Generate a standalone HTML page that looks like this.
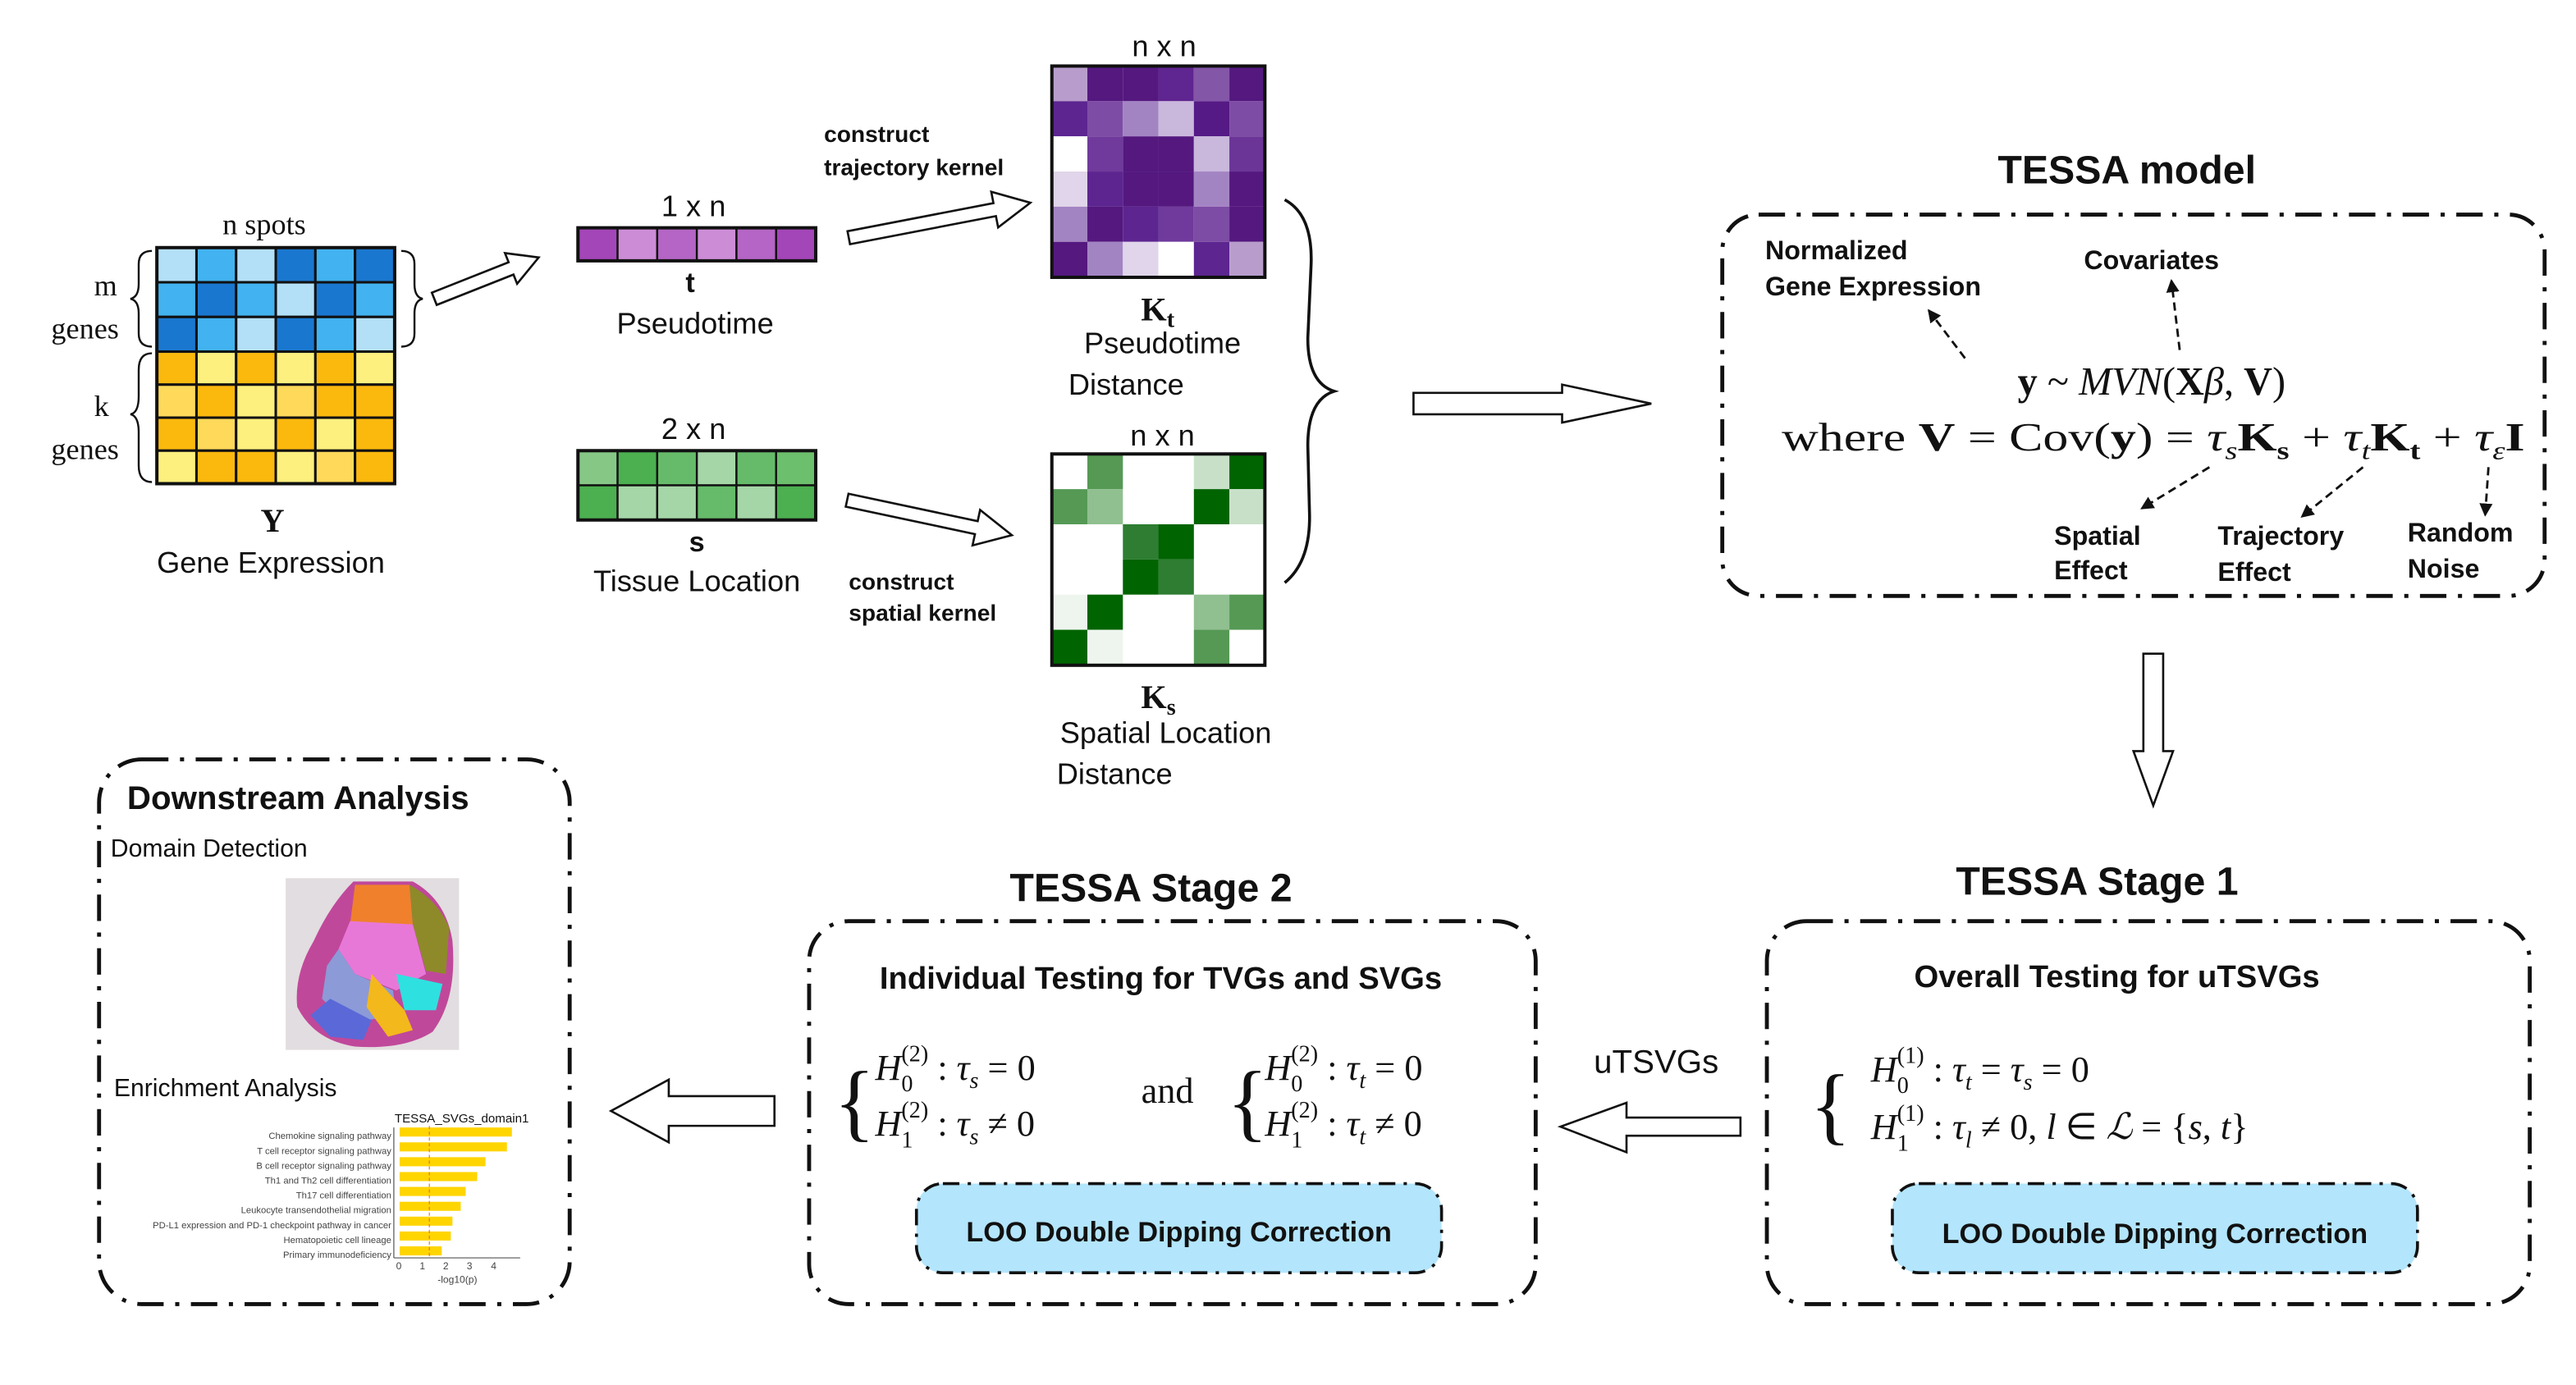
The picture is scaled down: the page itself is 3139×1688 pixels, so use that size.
<!DOCTYPE html>
<html><head><meta charset="utf-8"><style>
html,body{margin:0;padding:0;background:#fff;}
svg{display:block;}
.s{font-family:"Liberation Sans",sans-serif;}
.m{font-family:"Liberation Serif",serif;}
</style></head><body>
<svg width="3139" height="1688" viewBox="0 0 1560 839" preserveAspectRatio="none" xmlns="http://www.w3.org/2000/svg">
<rect x="0" y="0" width="1560" height="839" fill="#fff"/>
<!-- Gene matrix -->
<g stroke="#111" stroke-width="1.5">
<g transform="translate(95,150)">
<rect x="0" y="0" width="24" height="21" fill="#b3e0f7"/><rect x="24" y="0" width="24" height="21" fill="#42b2f0"/><rect x="48" y="0" width="24" height="21" fill="#b3e0f7"/><rect x="72" y="0" width="24" height="21" fill="#1a77cf"/><rect x="96" y="0" width="24" height="21" fill="#42b2f0"/><rect x="120" y="0" width="24" height="21" fill="#1a77cf"/>
<rect x="0" y="21" width="24" height="21" fill="#42b2f0"/><rect x="24" y="21" width="24" height="21" fill="#1a77cf"/><rect x="48" y="21" width="24" height="21" fill="#42b2f0"/><rect x="72" y="21" width="24" height="21" fill="#b3e0f7"/><rect x="96" y="21" width="24" height="21" fill="#1a77cf"/><rect x="120" y="21" width="24" height="21" fill="#42b2f0"/>
<rect x="0" y="42" width="24" height="21" fill="#1a77cf"/><rect x="24" y="42" width="24" height="21" fill="#42b2f0"/><rect x="48" y="42" width="24" height="21" fill="#b3e0f7"/><rect x="72" y="42" width="24" height="21" fill="#1a77cf"/><rect x="96" y="42" width="24" height="21" fill="#42b2f0"/><rect x="120" y="42" width="24" height="21" fill="#b3e0f7"/>
<rect x="0" y="63" width="24" height="20" fill="#fbb90e"/><rect x="24" y="63" width="24" height="20" fill="#fef07e"/><rect x="48" y="63" width="24" height="20" fill="#fbb90e"/><rect x="72" y="63" width="24" height="20" fill="#fef07e"/><rect x="96" y="63" width="24" height="20" fill="#fbb90e"/><rect x="120" y="63" width="24" height="20" fill="#fef07e"/>
<rect x="0" y="83" width="24" height="20" fill="#fed95a"/><rect x="24" y="83" width="24" height="20" fill="#fbb90e"/><rect x="48" y="83" width="24" height="20" fill="#fef07e"/><rect x="72" y="83" width="24" height="20" fill="#fed95a"/><rect x="96" y="83" width="24" height="20" fill="#fbb90e"/><rect x="120" y="83" width="24" height="20" fill="#fbb90e"/>
<rect x="0" y="103" width="24" height="20" fill="#fbb90e"/><rect x="24" y="103" width="24" height="20" fill="#fed95a"/><rect x="48" y="103" width="24" height="20" fill="#fef07e"/><rect x="72" y="103" width="24" height="20" fill="#fbb90e"/><rect x="96" y="103" width="24" height="20" fill="#fef07e"/><rect x="120" y="103" width="24" height="20" fill="#fbb90e"/>
<rect x="0" y="123" width="24" height="20" fill="#fef07e"/><rect x="24" y="123" width="24" height="20" fill="#fbb90e"/><rect x="48" y="123" width="24" height="20" fill="#fbb90e"/><rect x="72" y="123" width="24" height="20" fill="#fef07e"/><rect x="96" y="123" width="24" height="20" fill="#fed95a"/><rect x="120" y="123" width="24" height="20" fill="#fbb90e"/>
</g></g>
<rect x="95" y="150" width="144" height="143" fill="none" stroke="#111" stroke-width="2"/>
<g fill="none" stroke="#111" stroke-width="1.2">
<path d="M92,152 Q84,152 84,160 L84,172 Q84,180 79,181 Q84,182 84,190 L84,202 Q84,210 92,210"/>
<path d="M92,214 Q84,214 84,224 L84,240 Q84,250 79,251 Q84,252 84,262 L84,282 Q84,292 92,292"/>
<path d="M243,152 Q251,152 251,160 L251,172 Q251,180 256,181 Q251,182 251,190 L251,202 Q251,210 243,210"/>
</g>
<g class="m" font-size="18" fill="#111">
<text x="160" y="142" text-anchor="middle">n  spots</text>
<text x="71" y="179" text-anchor="end">m</text>
<text x="72" y="205" text-anchor="end">genes</text>
<text x="66" y="252" text-anchor="end">k</text>
<text x="72" y="278" text-anchor="end">genes</text>
<text x="165" y="322" text-anchor="middle" font-weight="bold" font-size="20">Y</text>
</g>
<text class="s" x="164" y="347" font-size="18" text-anchor="middle" fill="#111">Gene Expression</text>
<!-- hollow arrows -->
<g fill="#fff" stroke="#111" stroke-width="1.3">
<polygon transform="translate(263,181) rotate(-21.6)" points="0,-4 50,-4 50,-10 68,0 50,10 50,4 0,4"/>
<polygon transform="translate(514,144) rotate(-10.9)" points="0,-4 90,-4 90,-11 112,0 90,11 90,4 0,4"/>
<polygon transform="translate(513,303) rotate(12)" points="0,-4 80,-4 80,-11 102,0 80,11 80,4 0,4"/>
<polygon points="856,238 946,238 946,233 1000,244.5 946,256 946,251 856,251"/>
<polygon points="1298,396 1310,396 1310,455 1316,455 1304,488 1292,455 1298,455"/>
<polygon points="1054,677 985,677 985,668 945,682.5 985,698 985,688 1054,688"/>
<polygon points="469,664 405,664 405,654 370,673 405,692 405,682 469,682"/>
</g>
<!-- t bar -->
<g stroke="#111" stroke-width="1.2">
<rect x="350" y="138" width="24" height="20" fill="#a346b8"/><rect x="374" y="138" width="24" height="20" fill="#cc8dd6"/><rect x="398" y="138" width="24" height="20" fill="#b465c5"/><rect x="422" y="138" width="24" height="20" fill="#cc8dd6"/><rect x="446" y="138" width="24" height="20" fill="#b465c5"/><rect x="470" y="138" width="24" height="20" fill="#a346b8"/>
<rect x="350" y="273" width="24" height="21" fill="#86c786"/><rect x="374" y="273" width="24" height="21" fill="#4caf50"/><rect x="398" y="273" width="24" height="21" fill="#66bb6a"/><rect x="422" y="273" width="24" height="21" fill="#a5d6a7"/><rect x="446" y="273" width="24" height="21" fill="#66bb6a"/><rect x="470" y="273" width="24" height="21" fill="#6cbf6c"/>
<rect x="350" y="294" width="24" height="21" fill="#4caf50"/><rect x="374" y="294" width="24" height="21" fill="#a5d6a7"/><rect x="398" y="294" width="24" height="21" fill="#a5d6a7"/><rect x="422" y="294" width="24" height="21" fill="#66bb6a"/><rect x="446" y="294" width="24" height="21" fill="#a5d6a7"/><rect x="470" y="294" width="24" height="21" fill="#4caf50"/>
</g>
<rect x="350" y="138" width="144" height="20" fill="none" stroke="#111" stroke-width="2"/>
<rect x="350" y="273" width="144" height="42" fill="none" stroke="#111" stroke-width="2"/>
<g class="s" font-size="18" fill="#111" text-anchor="middle">
<text x="420" y="131">1 x n</text>
<text x="418" y="177" font-weight="bold" font-size="17">t</text>
<text x="421" y="202">Pseudotime</text>
<text x="420" y="266">2 x n</text>
<text x="422" y="334" font-weight="bold" font-size="17">s</text>
<text x="422" y="358">Tissue Location</text>
<text x="705" y="34">n x n</text>
<text x="704" y="214">Pseudotime</text>
<text x="682" y="239">Distance</text>
<text x="704" y="270">n x n</text>
<text x="706" y="450">Spatial Location</text>
<text x="675" y="475">Distance</text>
</g>
<g class="s" font-size="14" font-weight="bold" fill="#111">
<text x="499" y="86">construct</text><text x="499" y="106">trajectory kernel</text>
<text x="514" y="357">construct</text><text x="514" y="376">spatial kernel</text>
</g>
<g class="m" font-weight="bold" fill="#111" font-size="20">
<text x="691" y="194">K<tspan font-size="14" dy="4">t</tspan></text>
<text x="691" y="429">K<tspan font-size="14" dy="4">s</tspan></text>
</g>
<!-- Kt -->
<g transform="translate(637,40)">
<rect x="0" y="0" width="21.5" height="21.3" fill="#b89dcc"/><rect x="21.5" y="0" width="21.5" height="21.3" fill="#54187f"/><rect x="43" y="0" width="21.5" height="21.3" fill="#54187f"/><rect x="64.5" y="0" width="21.5" height="21.3" fill="#5f2590"/><rect x="86" y="0" width="21.5" height="21.3" fill="#8456a8"/><rect x="107.5" y="0" width="21.5" height="21.3" fill="#54187f"/>
<rect x="0" y="21.3" width="21.5" height="21.3" fill="#5c2590"/><rect x="21.5" y="21.3" width="21.5" height="21.3" fill="#7d4ca5"/><rect x="43" y="21.3" width="21.5" height="21.3" fill="#a384c3"/><rect x="64.5" y="21.3" width="21.5" height="21.3" fill="#c9b7dc"/><rect x="86" y="21.3" width="21.5" height="21.3" fill="#551a85"/><rect x="107.5" y="21.3" width="21.5" height="21.3" fill="#7d4ca5"/>
<rect x="0" y="42.6" width="21.5" height="21.3" fill="#ffffff"/><rect x="21.5" y="42.6" width="21.5" height="21.3" fill="#6f3a9c"/><rect x="43" y="42.6" width="21.5" height="21.3" fill="#54187f"/><rect x="64.5" y="42.6" width="21.5" height="21.3" fill="#54187f"/><rect x="86" y="42.6" width="21.5" height="21.3" fill="#c9b7dc"/><rect x="107.5" y="42.6" width="21.5" height="21.3" fill="#6b3497"/>
<rect x="0" y="63.9" width="21.5" height="21.3" fill="#e0d5ea"/><rect x="21.5" y="63.9" width="21.5" height="21.3" fill="#5c2590"/><rect x="43" y="63.9" width="21.5" height="21.3" fill="#54187f"/><rect x="64.5" y="63.9" width="21.5" height="21.3" fill="#54187f"/><rect x="86" y="63.9" width="21.5" height="21.3" fill="#a384c3"/><rect x="107.5" y="63.9" width="21.5" height="21.3" fill="#54187f"/>
<rect x="0" y="85.2" width="21.5" height="21.3" fill="#a384c3"/><rect x="21.5" y="85.2" width="21.5" height="21.3" fill="#54187f"/><rect x="43" y="85.2" width="21.5" height="21.3" fill="#5c2590"/><rect x="64.5" y="85.2" width="21.5" height="21.3" fill="#6f3a9c"/><rect x="86" y="85.2" width="21.5" height="21.3" fill="#7d4ca5"/><rect x="107.5" y="85.2" width="21.5" height="21.3" fill="#54187f"/>
<rect x="0" y="106.5" width="21.5" height="21.5" fill="#54187f"/><rect x="21.5" y="106.5" width="21.5" height="21.5" fill="#a384c3"/><rect x="43" y="106.5" width="21.5" height="21.5" fill="#e0d5ea"/><rect x="64.5" y="106.5" width="21.5" height="21.5" fill="#ffffff"/><rect x="86" y="106.5" width="21.5" height="21.5" fill="#5c2590"/><rect x="107.5" y="106.5" width="21.5" height="21.5" fill="#b89dcc"/>
<rect x="0" y="0" width="129" height="128" fill="none" stroke="#111" stroke-width="2"/>
</g>
<!-- Ks -->
<g transform="translate(637,275)">
<rect x="21.5" y="0" width="21.5" height="21.3" fill="#559955"/><rect x="86" y="0" width="21.5" height="21.3" fill="#c8e0c8"/><rect x="107.5" y="0" width="21.5" height="21.3" fill="#006400"/>
<rect x="0" y="21.3" width="21.5" height="21.3" fill="#559955"/><rect x="21.5" y="21.3" width="21.5" height="21.3" fill="#90bf90"/><rect x="86" y="21.3" width="21.5" height="21.3" fill="#006400"/><rect x="107.5" y="21.3" width="21.5" height="21.3" fill="#c8e0c8"/>
<rect x="43" y="42.6" width="21.5" height="21.3" fill="#2e7d32"/><rect x="64.5" y="42.6" width="21.5" height="21.3" fill="#006400"/>
<rect x="43" y="63.9" width="21.5" height="21.3" fill="#006400"/><rect x="64.5" y="63.9" width="21.5" height="21.3" fill="#2e7d32"/>
<rect x="0" y="85.2" width="21.5" height="21.3" fill="#eef5ee"/><rect x="21.5" y="85.2" width="21.5" height="21.3" fill="#006400"/><rect x="86" y="85.2" width="21.5" height="21.3" fill="#90bf90"/><rect x="107.5" y="85.2" width="21.5" height="21.3" fill="#559955"/>
<rect x="0" y="106.5" width="21.5" height="21.5" fill="#006400"/><rect x="21.5" y="106.5" width="21.5" height="21.5" fill="#eef5ee"/><rect x="86" y="106.5" width="21.5" height="21.5" fill="#559955"/>
<rect x="0" y="0" width="129" height="128" fill="none" stroke="#111" stroke-width="2"/>
</g>
<!-- big brace -->
<path d="M778,121 Q795,130 794,160 L792,205 Q792,232 808,237 Q792,242 792,270 L793,310 Q794,340 778,353" fill="none" stroke="#111" stroke-width="1.8"/>
<!-- dash-dot boxes -->
<g fill="none" stroke="#111" stroke-width="2.4" stroke-dasharray="16 7 2.5 7">
<rect x="1043" y="130" width="498" height="231" rx="22"/>
<rect x="1070" y="558" width="462" height="232" rx="24"/>
<rect x="490" y="558" width="440" height="232" rx="24"/>
<rect x="60" y="460" width="285" height="330" rx="26"/>
</g>
<g fill="#b3e5fc" stroke="#111" stroke-width="1.8" stroke-dasharray="10 5 2 5">
<rect x="1146" y="717" width="318" height="54" rx="16"/>
<rect x="555" y="717" width="318" height="54" rx="16"/>
</g>
<!-- TESSA model text -->
<g class="s" font-weight="bold" fill="#111">
<text x="1288" y="111" font-size="24" text-anchor="middle">TESSA model</text>
<text x="1069" y="157" font-size="16">Normalized</text>
<text x="1069" y="179" font-size="16">Gene Expression</text>
<text x="1262" y="163" font-size="16">Covariates</text>
<text x="1244" y="330" font-size="16">Spatial</text><text x="1244" y="351" font-size="16">Effect</text>
<text x="1343" y="330" font-size="16">Trajectory</text><text x="1343" y="352" font-size="16">Effect</text>
<text x="1458" y="328" font-size="16">Random</text><text x="1458" y="350" font-size="16">Noise</text>
<text x="1270" y="542" font-size="24" text-anchor="middle">TESSA Stage 1</text>
<text x="697" y="546" font-size="24" text-anchor="middle">TESSA Stage 2</text>
<text x="1282" y="598" font-size="19" text-anchor="middle">Overall Testing for uTSVGs</text>
<text x="703" y="599" font-size="19" text-anchor="middle">Individual Testing for TVGs and SVGs</text>
<text x="1305" y="753" font-size="17" text-anchor="middle">LOO Double Dipping Correction</text>
<text x="714" y="752" font-size="17" text-anchor="middle">LOO Double Dipping Correction</text>
<text x="77" y="490" font-size="20">Downstream Analysis</text>
</g>
<g class="m" fill="#111" font-size="24">
<text x="1303" y="239" text-anchor="middle"><tspan font-weight="bold">y</tspan> ~ <tspan font-style="italic">MVN</tspan>(<tspan font-weight="bold">X</tspan><tspan font-style="italic">β</tspan>, <tspan font-weight="bold">V</tspan>)</text>
<text x="1079" y="273" textLength="450" lengthAdjust="spacingAndGlyphs">where <tspan font-weight="bold">V</tspan> = Cov(<tspan font-weight="bold">y</tspan>) = <tspan font-style="italic">τ</tspan><tspan font-size="15" font-style="italic" dy="5">s</tspan><tspan dy="-5" font-weight="bold">K</tspan><tspan font-size="15" font-weight="bold" dy="5">s</tspan><tspan dy="-5"> + </tspan><tspan font-style="italic">τ</tspan><tspan font-size="15" font-style="italic" dy="5">t</tspan><tspan dy="-5" font-weight="bold">K</tspan><tspan font-size="15" font-weight="bold" dy="5">t</tspan><tspan dy="-5"> + </tspan><tspan font-style="italic">τ</tspan><tspan font-size="15" font-style="italic" dy="5">ε</tspan><tspan dy="-5" font-weight="bold">I</tspan></text>
</g>
<!-- dashed arrows -->
<defs><marker id="ah" markerWidth="8" markerHeight="8" refX="7" refY="4" orient="auto" markerUnits="userSpaceOnUse"><path d="M0,0 L8,4 L0,8 Z" fill="#111"/></marker></defs>
<g stroke="#111" stroke-width="1.4" stroke-dasharray="5 3" fill="none" marker-end="url(#ah)">
<line x1="1190" y1="217" x2="1168" y2="188"/>
<line x1="1320" y1="212" x2="1315" y2="170"/>
<line x1="1338" y1="283" x2="1297" y2="308"/>
<line x1="1431" y1="283" x2="1394" y2="313"/>
<line x1="1507" y1="283" x2="1505" y2="312"/>
</g>
<!-- Stage 1 equations -->
<g class="m" fill="#111" font-size="22">
<text x="1096" y="687" font-size="52" font-weight="normal">{</text>
<text x="1133" y="655"><tspan font-style="italic">H</tspan><tspan font-size="14" dy="7">0</tspan><tspan font-size="14" dx="-7" dy="-18">(1)</tspan><tspan dy="11"> : </tspan><tspan font-style="italic">τ</tspan><tspan font-size="14" font-style="italic" dy="5">t</tspan><tspan dy="-5"> = </tspan><tspan font-style="italic">τ</tspan><tspan font-size="14" font-style="italic" dy="5">s</tspan><tspan dy="-5"> = 0</tspan></text>
<text x="1133" y="690"><tspan font-style="italic">H</tspan><tspan font-size="14" dy="7">1</tspan><tspan font-size="14" dx="-7" dy="-18">(1)</tspan><tspan dy="11"> : </tspan><tspan font-style="italic">τ</tspan><tspan font-size="14" font-style="italic" dy="5">l</tspan><tspan dy="-5"> ≠ 0,    </tspan><tspan font-style="italic">l</tspan> ∈ <tspan font-style="italic">ℒ</tspan> = {<tspan font-style="italic">s</tspan>, <tspan font-style="italic">t</tspan>}</text>
<text x="505" y="685" font-size="52">{</text>
<text x="530" y="654"><tspan font-style="italic">H</tspan><tspan font-size="14" dy="7">0</tspan><tspan font-size="14" dx="-7" dy="-18">(2)</tspan><tspan dy="11"> : </tspan><tspan font-style="italic">τ</tspan><tspan font-size="14" font-style="italic" dy="5">s</tspan><tspan dy="-5"> = 0</tspan></text>
<text x="530" y="688"><tspan font-style="italic">H</tspan><tspan font-size="14" dy="7">1</tspan><tspan font-size="14" dx="-7" dy="-18">(2)</tspan><tspan dy="11"> : </tspan><tspan font-style="italic">τ</tspan><tspan font-size="14" font-style="italic" dy="5">s</tspan><tspan dy="-5"> ≠ 0</tspan></text>
<text x="707" y="668" text-anchor="middle">and</text>
<text x="743" y="685" font-size="52">{</text>
<text x="766" y="654"><tspan font-style="italic">H</tspan><tspan font-size="14" dy="7">0</tspan><tspan font-size="14" dx="-7" dy="-18">(2)</tspan><tspan dy="11"> : </tspan><tspan font-style="italic">τ</tspan><tspan font-size="14" font-style="italic" dy="5">t</tspan><tspan dy="-5"> = 0</tspan></text>
<text x="766" y="688"><tspan font-style="italic">H</tspan><tspan font-size="14" dy="7">1</tspan><tspan font-size="14" dx="-7" dy="-18">(2)</tspan><tspan dy="11"> : </tspan><tspan font-style="italic">τ</tspan><tspan font-size="14" font-style="italic" dy="5">t</tspan><tspan dy="-5"> ≠ 0</tspan></text>
</g>
<text class="s" x="1003" y="650" font-size="20" text-anchor="middle" fill="#111">uTSVGs</text>
<!-- Downstream -->
<g class="s" fill="#111" font-size="15">
<text x="67" y="519">Domain Detection</text>
<text x="69" y="664">Enrichment Analysis</text>
</g>
<rect x="173" y="532" width="105" height="104" fill="#e2dde0"/>
<path d="M214,534 L250,534 Q270,545 274,570 Q277,605 262,625 Q245,636 215,634 Q190,630 180,610 Q178,590 190,570 Q200,548 214,534 Z" fill="#c0489a"/>
<path d="M215,536 L248,536 L250,560 L232,566 L212,560 Z" fill="#f0802c"/>
<path d="M248,536 Q265,545 272,562 L270,590 L258,588 L250,560 Z" fill="#8e8a2a"/>
<path d="M212,558 L250,560 L258,590 L240,600 L215,590 L205,575 Z" fill="#e878d8"/>
<path d="M205,575 L215,590 L238,600 L240,615 L210,620 L195,605 L198,585 Z" fill="#8c9ad8"/>
<path d="M240,590 L268,596 L264,612 L245,612 Z" fill="#2fe0e0"/>
<path d="M225,590 L245,612 L250,624 L235,628 L222,610 Z" fill="#f3b81c"/>
<path d="M200,605 L225,618 L220,630 L200,628 L188,615 Z" fill="#5b68d8"/>
<!-- chart -->
<text class="s" x="239" y="680" font-size="7.5" fill="#111">TESSA_SVGs_domain1</text>
<line x1="238.5" y1="683" x2="238.5" y2="762" stroke="#555" stroke-width="0.6"/>
<line x1="238.5" y1="762" x2="315" y2="762" stroke="#555" stroke-width="0.6"/>
<g fill="#ffd500">
<rect x="242" y="683" width="68" height="5.5"/>
<rect x="242" y="692" width="65" height="5.5"/>
<rect x="242" y="701" width="52" height="5.5"/>
<rect x="242" y="710" width="47" height="5.5"/>
<rect x="242" y="719" width="40" height="5.5"/>
<rect x="242" y="728" width="37" height="5.5"/>
<rect x="242" y="737" width="32" height="5.5"/>
<rect x="242" y="746" width="31" height="5.5"/>
<rect x="242" y="755" width="25.5" height="5.5"/>
</g>
<line x1="260" y1="682" x2="260" y2="762" stroke="#e06010" stroke-width="0.5" stroke-dasharray="2 1.5"/>
<g class="s" font-size="5.6" fill="#444" text-anchor="end">
<text x="237" y="690">Chemokine signaling pathway</text>
<text x="237" y="699">T cell receptor signaling pathway</text>
<text x="237" y="708">B cell receptor signaling pathway</text>
<text x="237" y="717">Th1 and Th2 cell differentiation</text>
<text x="237" y="726">Th17 cell differentiation</text>
<text x="237" y="735">Leukocyte transendothelial migration</text>
<text x="237" y="744">PD-L1 expression and PD-1 checkpoint pathway in cancer</text>
<text x="237" y="753">Hematopoietic cell lineage</text>
<text x="237" y="762">Primary immunodeficiency</text>
</g>
<g class="s" font-size="6" fill="#444" text-anchor="middle">
<text x="241.5" y="769">0</text><text x="255.8" y="769">1</text><text x="270" y="769">2</text><text x="284.3" y="769">3</text><text x="299" y="769">4</text>
<text x="277" y="777">-log10(p)</text>
</g>
</svg>
</body></html>
